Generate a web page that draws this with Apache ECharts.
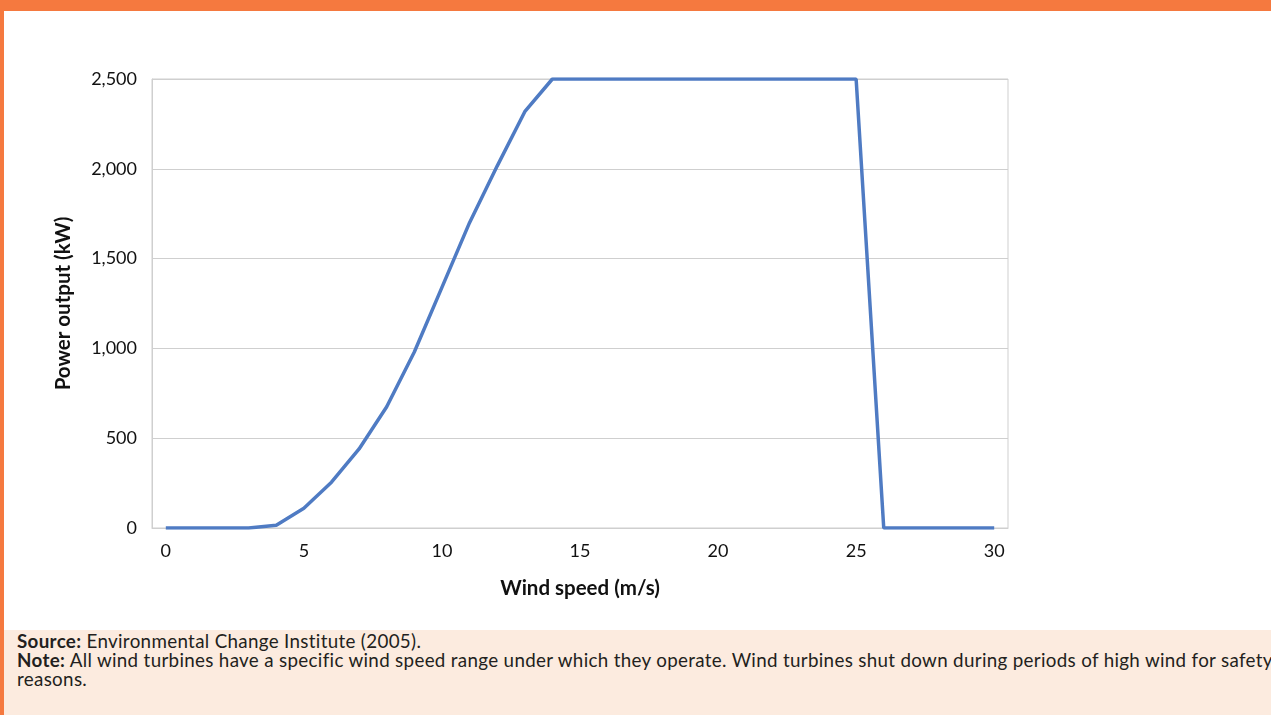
<!DOCTYPE html>
<html>
<head>
<meta charset="utf-8">
<script src="https://cdn.jsdelivr.net/npm/echarts@6/dist/echarts.min.js"></script>
<style>
  html, body { margin: 0; padding: 0; width: 1271px; height: 715px; overflow: hidden; background: #fff; font-family: Lato, "Open Sans", sans-serif; }
  #topbar { position: absolute; left: 0; top: 0; width: 1271px; height: 11px; background: #F5793F; }
  #leftbar { position: absolute; left: 0; top: 0; width: 4px; height: 715px; background: #F5793F; }
  #chart { position: absolute; left: 0; top: 0; width: 1271px; height: 715px; }
  #footer { position: absolute; left: 4px; top: 630px; width: 1267px; height: 85px; background: #FCEBDF; overflow: hidden; }
  #footer div { position: absolute; left: 13px; white-space: nowrap; font-size: 18.8px; color: #231f20; line-height: 19px; letter-spacing: 0.32px; }
</style>
</head>
<body>
<div id="chart"></div>
<div id="topbar"></div>
<div id="leftbar"></div>
<div id="footer">
  <div style="top:1px"><b>Source:</b> Environmental Change Institute (2005).</div>
  <div style="top:20px"><b>Note:</b> All wind turbines have a specific wind speed range under which they operate. Wind turbines shut down during periods of high wind for safety</div>
  <div style="top:39px">reasons.</div>
</div>
<script>
const windSpeeds = [0,1,2,3,4,5,6,7,8,9,10,11,12,13,14,15,16,17,18,19,20,21,22,23,24,25,26,27,28,29,30];
const powerOutput = [0,0,0,0,15,110,255,440,675,980,1340,1700,2015,2318,2500,2500,2500,2500,2500,2500,2500,2500,2500,2500,2500,2500,0,0,0,0,0];
const yTicks = { min: 0, max: 2500, interval: 500 };

const chart = echarts.init(document.getElementById('chart'));
chart.setOption({
  animation: false,
  grid: { left: 152, right: 263, top: 79, bottom: 187, show: true, borderColor: '#cfcfcf', borderWidth: 1, backgroundColor: 'transparent' },
  xAxis: {
    type: 'category',
    data: windSpeeds.map(String),
    boundaryGap: true,
    name: 'Wind speed (m/s)',
    nameLocation: 'middle',
    nameGap: 50,
    nameTextStyle: { fontFamily: 'Lato', fontWeight: 'bold', fontSize: 20.5, color: '#111' },
    axisLine: { lineStyle: { color: '#cfcfcf' } },
    axisTick: { show: false },
    axisLabel: { interval: 4, fontFamily: 'Lato', fontSize: 18, color: '#111', margin: 14 },
    splitLine: { show: false }
  },
  yAxis: {
    type: 'value',
    min: yTicks.min, max: yTicks.max, interval: yTicks.interval,
    name: 'Power output (kW)',
    nameLocation: 'middle',
    nameGap: 78,
    nameTextStyle: { fontFamily: 'Lato', fontWeight: 'bold', fontSize: 20.5, color: '#111' },
    axisLine: { show: true, lineStyle: { color: '#cfcfcf' } },
    axisTick: { show: false },
    axisLabel: { fontFamily: 'Lato', fontSize: 18, color: '#111', margin: 15, formatter: v => v.toLocaleString('en-US') },
    splitLine: { lineStyle: { color: '#cfcfcf' } }
  },
  series: [{
    type: 'line',
    data: powerOutput,
    symbol: 'none',
    lineStyle: { color: '#4F7BC3', width: 3.5 },
    itemStyle: { color: '#4F7BC3' }
  }]
});
</script>
</body>
</html>
